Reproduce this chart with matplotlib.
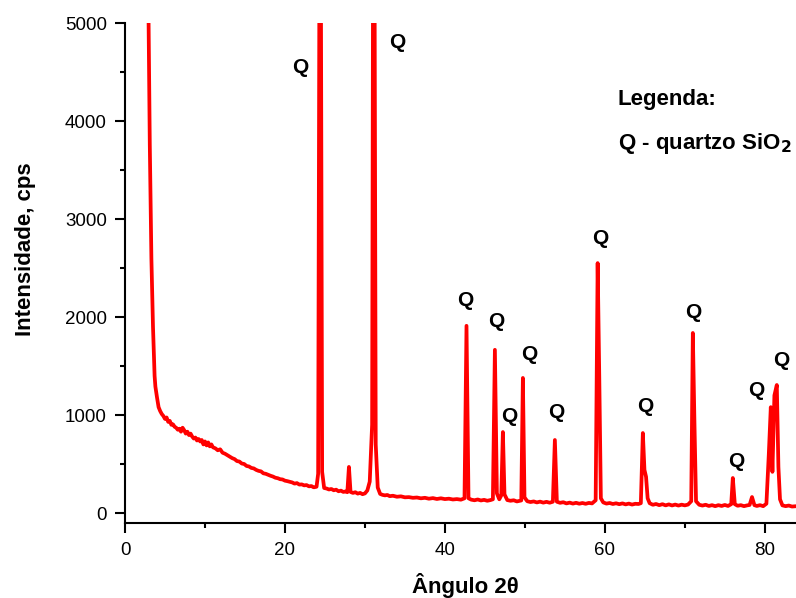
import matplotlib
matplotlib.use("Agg")
import matplotlib.pyplot as plt
from matplotlib.ticker import MultipleLocator

plt.rcParams['font.family'] = ['Liberation Sans', 'DejaVu Sans']

# Diffractogram points: (2-theta in degrees, intensity in counts per second)
pattern = [
    (2.8, 9000), (2.95, 5000), (3.1, 3760), (3.3, 2600), (3.5, 1900),
    (3.7, 1400), (3.8, 1290), (4.0, 1180), (4.2, 1080), (4.4, 1040),
    (4.6, 1010), (4.8, 990), (5.0, 960), (5.2, 975), (5.4, 930), (5.6, 940),
    (5.8, 900), (6.0, 905), (6.2, 880), (6.4, 870), (6.6, 850), (6.8, 860),
    (7.0, 830), (7.2, 870), (7.4, 845), (7.6, 810), (7.8, 830), (8.0, 795),
    (8.2, 810), (8.4, 780), (8.6, 760), (8.8, 770), (9.0, 740), (9.2, 755),
    (9.4, 730), (9.6, 745), (9.8, 700), (10.0, 730), (10.2, 690),
    (10.4, 720), (10.6, 680), (10.8, 700), (11.0, 670), (11.3, 660),
    (11.6, 640), (11.9, 650), (12.2, 615), (12.5, 605), (12.8, 590),
    (13.1, 575), (13.4, 560), (13.7, 550), (14.0, 530), (14.3, 525),
    (14.6, 505), (14.9, 500), (15.2, 480), (15.5, 475), (15.8, 460),
    (16.1, 455), (16.4, 440), (16.7, 430), (17.0, 425), (17.3, 405),
    (17.6, 400), (17.9, 390), (18.2, 380), (18.5, 372), (18.8, 360),
    (19.1, 355), (19.4, 345), (19.7, 342), (20.0, 330), (20.3, 325),
    (20.6, 318), (20.9, 312), (21.2, 300), (21.5, 305), (21.8, 290),
    (22.1, 292), (22.4, 282), (22.7, 285), (23.0, 272), (23.3, 275),
    (23.6, 262), (23.95, 268),
    (24.15, 400), (24.4, 8500), (24.65, 420),
    (24.9, 255), (25.2, 250), (25.5, 240), (25.8, 245), (26.1, 232),
    (26.4, 238), (26.7, 222), (27.0, 228), (27.3, 215), (27.6, 220),
    (27.8, 212), (28.0, 470), (28.2, 215), (28.5, 205), (28.8, 212),
    (29.1, 198), (29.4, 205), (29.7, 192), (30.0, 200), (30.3, 230),
    (30.6, 320), (30.9, 900), (31.1, 9000), (31.35, 700), (31.6, 260),
    (31.9, 195), (32.2, 185), (32.5, 180), (32.8, 184), (33.1, 172),
    (33.5, 176), (34.0, 166), (34.5, 170), (35.0, 160), (35.5, 162),
    (36.0, 155), (36.5, 158), (37.0, 150), (37.5, 155), (38.0, 146),
    (38.5, 152), (39.0, 143), (39.5, 150), (40.0, 142), (40.5, 146),
    (41.0, 138), (41.5, 142), (42.0, 136), (42.45, 150),
    (42.7, 1910), (42.95, 150),
    (43.3, 136), (43.7, 130), (44.1, 138), (44.5, 128), (44.9, 134),
    (45.3, 125), (45.7, 132), (46.0, 140), (46.25, 1665), (46.5, 200),
    (46.8, 140), (47.05, 180), (47.25, 826), (47.45, 190),
    (47.8, 132), (48.2, 125), (48.6, 130), (49.0, 118), (49.3, 124),
    (49.55, 128), (49.75, 1378), (49.95, 160),
    (50.3, 120), (50.7, 112), (51.1, 118), (51.5, 108), (51.9, 116),
    (52.3, 106), (52.7, 114), (53.1, 105), (53.5, 115), (53.75, 745),
    (54.0, 115), (54.4, 104), (54.8, 110), (55.2, 98), (55.6, 106),
    (56.0, 96), (56.4, 104), (56.8, 95), (57.2, 102), (57.6, 94),
    (58.0, 103), (58.4, 98), (58.85, 130),
    (59.1, 2550), (59.3, 1400), (59.5, 150),
    (59.8, 108), (60.2, 96), (60.6, 102), (61.0, 92), (61.4, 99),
    (61.8, 90), (62.2, 98), (62.6, 88), (63.0, 96), (63.4, 86), (63.8, 94),
    (64.2, 92), (64.5, 100),
    (64.75, 816), (64.95, 440), (65.15, 370), (65.35, 150), (65.6, 100),
    (66.0, 84), (66.4, 92), (66.8, 80), (67.2, 90), (67.6, 78), (68.0, 88),
    (68.4, 77), (68.8, 86), (69.2, 76), (69.6, 85), (70.0, 78), (70.4, 86),
    (70.8, 120), (71.0, 1837), (71.2, 930), (71.4, 120),
    (71.8, 84), (72.2, 76), (72.6, 84), (73.0, 72), (73.4, 80), (73.8, 70),
    (74.2, 80), (74.6, 72), (75.0, 82), (75.4, 72), (75.8, 90),
    (76.0, 357), (76.25, 90),
    (76.6, 74), (77.0, 80), (77.4, 70), (77.8, 78), (78.1, 82),
    (78.4, 163), (78.7, 80), (79.0, 72), (79.4, 80), (79.8, 70),
    (80.2, 95), (80.5, 600), (80.75, 1080), (80.95, 420), (81.2, 1200),
    (81.5, 1306), (81.7, 470), (81.9, 140),
    (82.2, 78), (82.6, 70), (83.0, 76), (83.4, 66), (84.0, 70),
]
two_theta = [p[0] for p in pattern]
intensity = [p[1] for p in pattern]

# Peak annotations: (2-theta, intensity) of each "Q" label
q_x = [21.9, 34.0, 42.5, 46.4, 48.0, 50.5, 53.9, 59.4, 65.0, 71.1, 76.4, 78.9, 82.0]
q_y = [4550, 4800, 2170, 1950, 980, 1620, 1030, 2800, 1090, 2050, 530, 1250, 1560]

x_ticks = [0, 20, 40, 60, 80]
y_ticks = [0, 1000, 2000, 3000, 4000, 5000]

fig = plt.figure(figsize=(7.96, 5.98), dpi=100)
ax = fig.add_axes([125 / 796, 75 / 598, 671 / 796, 500 / 598])

ax.plot(two_theta, intensity, color='#ff0000', linewidth=2.7,
        solid_joinstyle='round')

ax.set_xlim(0, 83.9)
ax.set_ylim(-102, 5000)
ax.set_xticks(x_ticks)
ax.set_yticks(y_ticks)
ax.xaxis.set_minor_locator(MultipleLocator(10))
ax.yaxis.set_minor_locator(MultipleLocator(500))

for side in ('top', 'right'):
    ax.spines[side].set_visible(False)
for side in ('left', 'bottom'):
    ax.spines[side].set_linewidth(1.5)

ax.tick_params(which='major', direction='out', length=7, width=1.5,
               labelsize=13.5, pad=6)
ax.tick_params(which='minor', direction='out', length=3.5, width=1.5)
ax.tick_params(axis='x', which='major', pad=6.5)

ax.set_xlabel('Ângulo 2θ', fontsize=16, fontweight='bold', labelpad=10.5)
ax.set_ylabel('Intensidade, cps', fontsize=16, fontweight='bold', labelpad=21)
ax.xaxis.label.set_x(0.508)
ax.yaxis.label.set_y(0.548)

for qx, qy in zip(q_x, q_y):
    ax.text(qx, qy, 'Q', fontsize=15, fontweight='bold', ha='center', va='center')

ax.text(61.6, 4215, 'Legenda:', fontsize=16, fontweight='bold', ha='left', va='center')
ax.text(61.6, 3775, 'Q - quartzo SiO$_\\mathbf{2}$', fontsize=16, fontweight='bold',
        ha='left', va='center')

fig.savefig('out.png', dpi=100)
